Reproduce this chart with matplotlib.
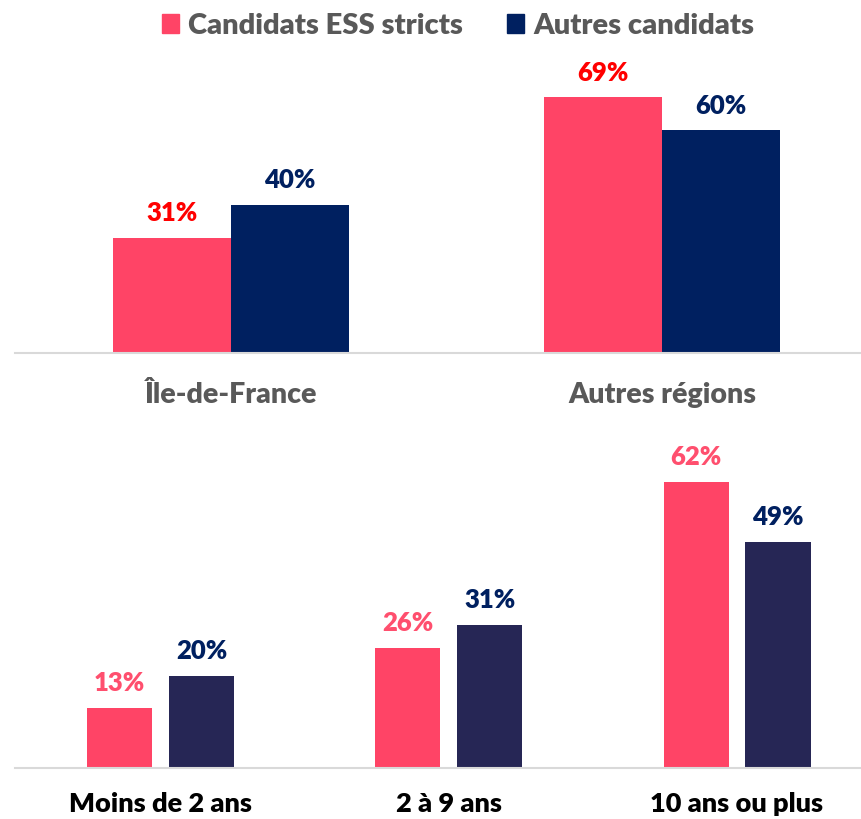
import matplotlib.pyplot as plt
import numpy as np
from matplotlib.patches import Patch

plt.rcParams['font.family'] = ['Lato', 'DejaVu Sans']

SERIES = ["Candidats ESS stricts", "Autres candidats"]

REGIONS = ["Île-de-France", "Autres régions"]
REGION_ESS = [31, 69]
REGION_OTHER = [40, 60]

SENIORITY = ["Moins de 2 ans", "2 à 9 ans", "10 ans ou plus"]
SENIORITY_ESS = [13, 26, 62]
SENIORITY_OTHER = [20, 31, 49]

PINK = "#FF4466"
NAVY = "#002060"
NAVY2 = "#262655"
GRAY_TXT = "#595959"
AXIS_GRAY = "#D9D9D9"


def style_axes(ax):
    for s in ("top", "right", "left"):
        ax.spines[s].set_visible(False)
    ax.spines["bottom"].set_color(AXIS_GRAY)
    ax.spines["bottom"].set_linewidth(1.5)
    ax.set_yticks([])
    ax.tick_params(axis="x", length=0)


def label_bars(ax, bars, values, color, size):
    for b, v in zip(bars, values):
        ax.annotate(f"{v}%", (b.get_x() + b.get_width() / 2, b.get_height()),
                    xytext=(0, 9), textcoords="offset points",
                    ha="center", va="bottom", fontsize=size,
                    fontweight="heavy", color=color)


fig = plt.figure(figsize=(8.61, 8.19), dpi=100)

# top panel: regions
ax1 = fig.add_axes([15 / 861, 466 / 819, 846 / 861, 300 / 819])
x = np.arange(len(REGIONS))
w = 0.274
b1 = ax1.bar(x - w / 2, REGION_ESS, w, color=PINK)
b2 = ax1.bar(x + w / 2, REGION_OTHER, w, color=NAVY)
label_bars(ax1, b1, REGION_ESS, "#FF0000", 18.5)
label_bars(ax1, b2, REGION_OTHER, NAVY, 18.5)
ax1.set_xlim(-0.501, 1.462)
ax1.set_ylim(0, 300 / 3.71)
ax1.set_xticks(x)
ax1.set_xticklabels(REGIONS, fontsize=20.5, fontweight="heavy", color=GRAY_TXT)
ax1.tick_params(axis="x", pad=21)
style_axes(ax1)

# bottom panel: seniority
ax2 = fig.add_axes([15 / 861, 51 / 819, 846 / 861, 328 / 819])
x2 = np.arange(len(SENIORITY))
w2 = 0.226
off = 0.142
c1 = ax2.bar(x2 - off, SENIORITY_ESS, w2, color=PINK)
c2 = ax2.bar(x2 + off, SENIORITY_OTHER, w2, color=NAVY2)
label_bars(ax2, c1, SENIORITY_ESS, "#FF4F6E", 18.5)
label_bars(ax2, c2, SENIORITY_OTHER, NAVY, 18.5)
ax2.set_xlim(-0.505, 2.43)
ax2.set_ylim(0, 328 / 4.62)
ax2.set_xticks(x2)
ax2.set_xticklabels(SENIORITY, fontsize=19.5, fontweight="heavy", color="black")
ax2.tick_params(axis="x", pad=17)
style_axes(ax2)

handles = [Patch(color=PINK), Patch(color=NAVY)]
fig.legend(handles, SERIES, loc="center", bbox_to_anchor=(458 / 861, 1 - 26 / 819),
           ncol=2, frameon=False, handlelength=0.6, handleheight=0.6,
           handletextpad=0.3, columnspacing=1.5,
           prop={"size": 21, "weight": "heavy"}, labelcolor=GRAY_TXT)

fig.savefig("out.png", dpi=100)
